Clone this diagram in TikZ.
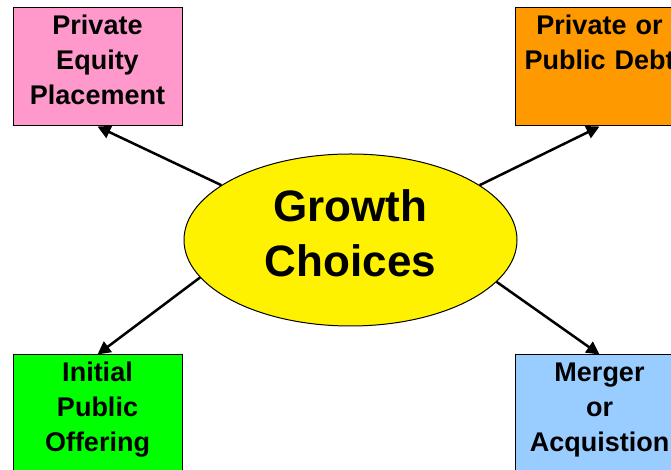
\documentclass[tikz,border=0pt]{standalone}
\usepackage{fontspec}
\setmainfont{Liberation Sans}
\usepackage{tikz}
\usetikzlibrary{shapes.geometric}
\usetikzlibrary{arrows.meta}
\definecolor{pinkbox}{RGB}{255,153,204}
\definecolor{orangebox}{RGB}{255,153,0}
\definecolor{greenbox}{RGB}{0,255,0}
\definecolor{bluebox}{RGB}{153,204,255}

\begin{document}
\begin{tikzpicture}[x=1pt, y=1pt, every node/.style={draw, line width=1pt, align=center},
	choice/.style={rectangle, minimum width=169pt, minimum height=118pt, inner sep=0pt, text width=169pt, text height=20pt, text depth=84pt, font=\fontsize{27}{35}\selectfont\bfseries},
	link/.style={line width=2.5pt, -{Triangle[length=13pt, width=13pt]}}]
			\useasboundingbox (0,0) rectangle (671,470);
			% Nodes
			\node[ellipse, fill=yellow, minimum width=333pt, minimum height=172pt, inner sep=0pt, text width=200pt, text height=40pt, text depth=76pt, font=\fontsize{44}{55}\selectfont\bfseries] (1) at (350.5,230) {Growth\\Choices};
			\node[choice, fill=pinkbox] (2) at (97.5,403) {Private\\Equity\\Placement};
			\node[choice, fill=orangebox] (3) at (599.5,403) {Private or\\Public Debt};
			\node[choice, fill=greenbox] (4) at (97.5,56) {Initial\\Public\\Offering};
			\node[choice, fill=bluebox] (5) at (599.5,56) {Merger\\or\\Acquistion};
			% Arrows
			\draw[link] (1.157.6) -- (2.south);
			\draw[link] (1.23) -- (3.south);
			\draw[link] (1.194.4) -- (4.north);
			\draw[link] (1.344) -- (5.north);
		\end{tikzpicture}
\end{document}
